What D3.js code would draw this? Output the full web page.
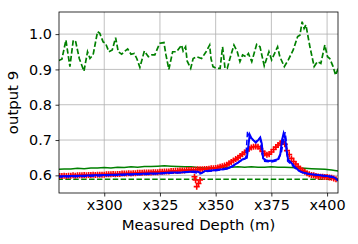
<!DOCTYPE html>
<html>
<head>
<meta charset="utf-8">
<script src="https://cdn.jsdelivr.net/npm/d3@7"></script>
<style>
  body { margin: 0; background: #fff; }
  text { font-family: "DejaVu Sans", sans-serif; }
</style>
</head>
<body>
<div id="chart"></div>
<script>
// tick labels
var xTicks = [300, 325, 350, 375, 400];
var yTicks = [0.6, 0.7, 0.8, 0.9, 1.0];

// upper green dashed curve [depth, value]
var greenHigh = [[279.4,0.925],[281,0.929],[282.8,0.983],[284.6,0.908],[286.1,0.983],[287.2,0.978],[288.8,0.931],[290.9,0.895],
  [292.5,0.950],[293.6,0.931],[295,0.941],[297,1.007],[298,1.002],[299.5,0.978],[300.6,0.974],[302.1,0.950],[303.6,0.955],
  [305.1,0.990],[306.3,0.950],[307.8,0.943],[309.3,0.952],[310.5,0.958],[312,0.943],[313.5,0.945],[314.6,0.931],[316,0.906],
  [318,0.952],[319.8,0.936],[321.3,0.941],[322.7,0.941],[324.2,0.964],[325,0.974],[326.8,0.976],[327.7,0.941],[329,0.900],
  [330.7,0.950],[332.5,0.950],[334.7,0.969],[335.4,0.952],[336.5,0.964],[337.2,0.924],[338.8,0.903],[339.9,0.931],
  [341.5,0.936],[343.7,0.931],[345.7,0.950],[347.3,0.969],[347.9,0.931],[348.8,0.908],[350.4,0.903],[352,0.903],
  [353.1,0.964],[354.2,0.903],[355.2,0.903],[356.4,0.931],[358.2,0.969],[359.7,0.950],[360.9,0.922],[362.1,0.941],
  [363.6,0.936],[364.7,0.945],[366.2,0.922],[368.4,0.971],[369.9,0.964],[371.8,0.910],[373.9,0.950],[375.1,0.927],
  [377.8,0.964],[378.8,0.936],[380.8,0.908],[382.6,0.927],[384.8,0.955],[386.8,0.993],[387.8,0.997],[388.8,1.035],
  [389.7,1.016],[390.5,1.026],[392.3,0.964],[394.2,0.908],[395.7,0.922],[397.2,0.917],[399,0.969],[400.2,0.936],
  [401.2,0.931],[402.7,0.908],[403.8,0.884],[405,0.903]];

// green solid
var greenMid = [[279,0.617],[282,0.618],[285,0.618],[288,0.620],[291,0.619],[294,0.621],[297,0.621],[300,0.622],[303,0.621],
  [306,0.623],[309,0.622],[312,0.624],[315,0.623],[318,0.625],[321,0.625],[324,0.626],[327,0.627],[330,0.626],[333,0.625],
  [336,0.624],[339,0.624],[342,0.622],[345,0.621],[348,0.621],[351,0.622],[354,0.623],[357,0.623],[360,0.624],[363,0.623],
  [366,0.624],[369,0.623],[372,0.623],[375,0.624],[378,0.623],[381,0.623],[384,0.622],[387,0.621],[390,0.620],[393,0.619],
  [396,0.618],[399,0.617],[402,0.615],[405,0.612]];

// lower green dashed
var greenLow = [[279,0.589],[300,0.589],[320,0.589],[340,0.589],[360,0.589],[380,0.589],[405,0.589]];

// red markers, one per metre from 280
var redStart = 280;
var redValues = [
  0.598,0.598,0.599,0.598,0.599,0.599,0.600,0.599,0.600,0.600,0.600,0.601,0.600,0.601,0.601,0.602,0.601,0.602,0.602,0.602,
  0.602,0.603,0.603,0.603,0.604,0.603,0.604,0.604,0.605,0.605,0.605,0.606,0.605,0.606,0.606,0.607,0.607,0.607,0.608,0.608,
  0.608,0.608,0.609,0.609,0.609,0.610,0.610,0.611,0.611,0.611,0.612,0.612,0.613,0.613,0.614,0.614,0.614,0.615,0.615,0.615,
  0.616,0.616,0.617,0.617,0.617,0.618,0.618,0.619,0.620,0.620,0.621,0.622,0.624,0.626,0.628,0.630,0.634,0.638,0.642,0.646,
  0.650,0.655,0.660,0.665,0.670,0.675,0.679,0.681,0.682,0.681,0.676,0.668,0.662,0.658,0.660,0.666,0.673,0.680,0.686,0.691,
  0.696,0.688,0.670,0.659,0.648,0.639,0.632,0.625,0.619,0.614,0.610,0.606,0.603,0.601,0.600,0.598,0.597,0.596,0.596,0.595,
  0.595,0.594,0.593,0.591,0.589];
// red outliers
var redExtra = [[340.5,0.596],[341,0.587],[341.5,0.568],[342.3,0.577],[343,0.587]];

// blue solid
var blueSolid = [[279,0.597],[285,0.598],[290,0.599],[295,0.600],[300,0.601],[305,0.602],[310,0.603],[315,0.604],[320,0.605],
  [325,0.606],[330,0.608],[335,0.609],[340,0.611],[342,0.610],[343.5,0.606],[345,0.612],[350,0.615],[353,0.617],[356,0.621],
  [358,0.628],[360,0.636],[362,0.645],[364,0.650],[364.8,0.690],[365.3,0.715],[366,0.706],[367,0.699],[368,0.693],[369,0.699],
  [370,0.707],[370.7,0.690],[371.3,0.648],[372.5,0.643],[374,0.641],[376,0.642],[378,0.646],[379,0.660],[379.8,0.700],
  [380.5,0.719],[381.2,0.705],[381.8,0.670],[382.5,0.645],[384,0.635],[385.5,0.624],[387,0.615],[389,0.608],[392,0.604],
  [396,0.601],[400,0.598],[402,0.597],[403.5,0.593],[405,0.585]];

// blue dashed
var blueDash = [[279,0.595],[290,0.597],[300,0.599],[310,0.601],[320,0.603],[330,0.606],[340,0.609],[343,0.604],[345,0.610],
  [350,0.613],[355,0.618],[358,0.626],[361,0.640],[363.5,0.648],[364.3,0.724],[365,0.712],[366,0.703],[368,0.695],[370,0.705],
  [370.8,0.660],[372,0.640],[375,0.638],[378,0.642],[379.5,0.665],[380.5,0.700],[381.2,0.722],[381.8,0.690],[382.3,0.640],
  [384,0.630],[386,0.618],[388,0.610],[391,0.605],[395,0.601],[400,0.597],[403,0.594],[405,0.586]];

//----------------------------------------------------------------
// svg
//----------------------------------------------------------------
var W = 358, H = 244;
var m = {top: 12, right: 20, bottom: 51, left: 59},
    w = W - m.left - m.right,
    h = H - m.top - m.bottom;

var svg = d3.select("#chart").append("svg")
    .attr("width", W)
    .attr("height", H);
var g = svg.append("g")
    .attr("transform", "translate(" + m.left + "," + m.top + ")");

var x = d3.scaleLinear().domain([279.7, 404.9]).range([0, w]);
var y = d3.scaleLinear().domain([0.55, 1.0626]).range([h, 0]);

// grid
g.append("g").selectAll("line").data(xTicks).join("line")
    .attr("x1", d => x(d)).attr("x2", d => x(d))
    .attr("y1", 0).attr("y2", h)
    .attr("stroke", "#b0b0b0").attr("stroke-width", 0.8);
g.append("g").selectAll("line").data(yTicks).join("line")
    .attr("y1", d => y(d)).attr("y2", d => y(d))
    .attr("x1", 0).attr("x2", w)
    .attr("stroke", "#b0b0b0").attr("stroke-width", 0.8);

svg.append("clipPath").attr("id", "clip")
  .append("rect").attr("width", w).attr("height", h);
var plot = g.append("g").attr("clip-path", "url(#clip)");

var line = d3.line().x(d => x(d[0])).y(d => y(d[1]));

function trace(data, color, width, dash) {
    plot.append("path")
        .datum(data)
        .attr("d", line)
        .attr("fill", "none")
        .attr("stroke", color)
        .attr("stroke-width", width)
        .attr("stroke-dasharray", dash || null);
}

trace(greenHigh, "#008000", 1.7, "5.5,2.4");
trace(greenMid, "#008000", 1.5);
trace(greenLow, "#008000", 1.5, "5.5,2.4");

var redPts = redValues.map((v, i) => [redStart + i, v]).concat(redExtra);
plot.append("g").selectAll("path").data(redPts).join("path")
    .attr("transform", d => "translate(" + x(d[0]) + "," + y(d[1]) + ")")
    .attr("d", "M-3,0H3M0,-3V3")
    .attr("stroke", "#ff0000")
    .attr("stroke-width", 1.6);

trace(blueSolid, "#0000ff", 2);
trace(blueDash, "#0000ff", 1.5, "5.5,2.4");

// axes
var xAxis = g.append("g")
    .attr("transform", "translate(0," + h + ")")
    .call(d3.axisBottom(x).tickValues(xTicks).tickSize(3.5).tickPadding(3.5).tickFormat(d => "x" + d));
var yAxis = g.append("g")
    .call(d3.axisLeft(y).tickValues(yTicks).tickSize(3.5).tickPadding(3.5).tickFormat(d3.format(".1f")));
[xAxis, yAxis].forEach(function(a) {
    a.select(".domain").remove();
    a.selectAll("text").attr("font-size", 14.4).attr("fill", "#000").style("font-family", "DejaVu Sans");
    a.selectAll("line").attr("stroke", "#000").attr("stroke-width", 0.8);
});

g.append("rect")
    .attr("width", w).attr("height", h)
    .attr("fill", "none").attr("stroke", "#000").attr("stroke-width", 0.8);

g.append("text")
    .attr("x", w / 2).attr("y", h + 37)
    .attr("text-anchor", "middle").attr("font-size", 14.9)
    .text("Measured Depth (m)");
g.append("text")
    .attr("transform", "translate(" + (-41) + "," + (h / 2) + ") rotate(-90)")
    .attr("text-anchor", "middle").attr("font-size", 14.9)
    .text("output 9");
</script>
</body>
</html>
